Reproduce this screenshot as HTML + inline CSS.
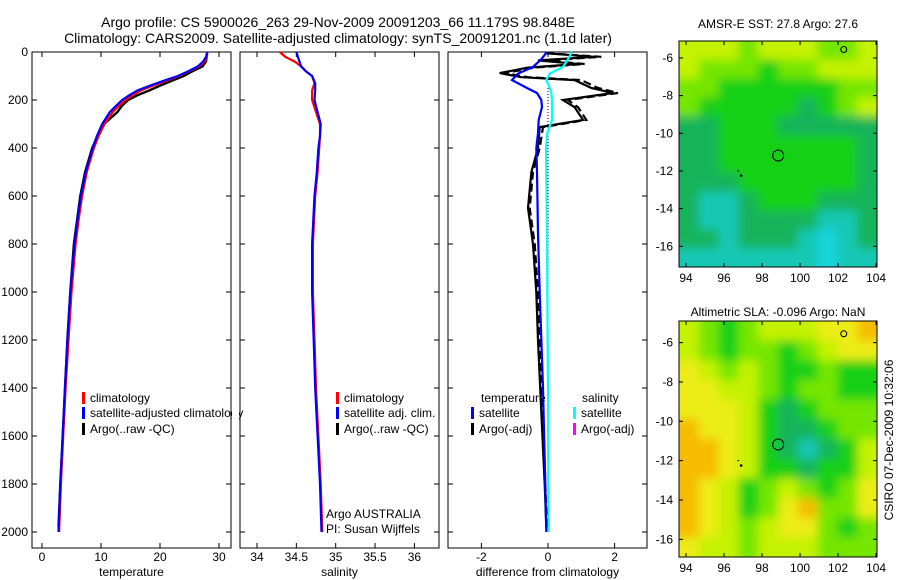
<!DOCTYPE html>
<html><head><meta charset="utf-8">
<style>
html,body{margin:0;padding:0;background:#fff;}
svg{display:block;font-family:"Liberation Sans",sans-serif;}
</style></head>
<body>
<svg id="c" width="900" height="580" viewBox="0 0 900 580" xmlns="http://www.w3.org/2000/svg">
<defs>
<filter id="blur" x="-5%" y="-5%" width="110%" height="110%"><feGaussianBlur stdDeviation="5"/></filter>
<clipPath id="clip-sst-map"><rect x="679" y="41" width="198" height="226"/></clipPath>
<clipPath id="clip-sla-map"><rect x="679" y="321" width="198" height="236"/></clipPath>
</defs>
<text x="338" y="27" font-size="14" text-anchor="middle">Argo profile: CS 5900026_263 29-Nov-2009 20091203_66 11.179S 98.848E</text>
<text x="338" y="43" font-size="14" text-anchor="middle">Climatology: CARS2009. Satellite-adjusted climatology: synTS_20091201.nc (1.1d later)</text>
<text x="778" y="28" font-size="12" text-anchor="middle">AMSR-E SST: 27.8 Argo: 27.6</text>
<text x="778" y="316" font-size="12" text-anchor="middle">Altimetric SLA: -0.096 Argo: NaN</text>
<text transform="translate(893,440) rotate(-90)" font-size="12" text-anchor="middle">CSIRO 07-Dec-2009 10:32:06</text>
<g id="g"></g>
</svg>
<script>
// ---- profile data ----
const depthT = [0,20,40,60,80,100,120,140,160,180,200,225,250,300,350,400,500,600,700,800,1000,1200,1400,1600,1800,2000];
const climT = [28.0,27.9,27.6,26.6,25.0,23.2,21.0,18.8,16.8,15.3,14.2,13.0,12.0,10.6,9.6,8.8,7.6,6.8,6.2,5.7,5.0,4.5,4.0,3.6,3.2,2.9];
const satT = [28.0,27.8,27.3,26.4,24.8,23.0,20.6,18.3,16.2,14.8,13.6,12.5,11.5,10.2,9.3,8.6,7.4,6.6,6.0,5.5,4.8,4.3,3.9,3.5,3.1,2.8];
const depthArgo = [5,20,40,60,80,100,120,140,160,180,200,225,250,300,350,400,500,600,800,1000,1200,1400,1600,1800,1980];
const argoT = [28.0,27.9,27.8,27.2,25.5,24.0,22.0,20.0,18.2,16.2,14.6,13.5,12.8,10.5,9.4,8.5,7.3,6.5,5.4,4.8,4.3,3.9,3.5,3.1,2.8];
const depthS = [0,20,40,60,80,100,130,160,200,250,300,350,400,500,600,800,1000,1200,1400,1600,1800,2000];
const climS = [34.29,34.36,34.48,34.56,34.62,34.70,34.73,34.70,34.70,34.75,34.80,34.80,34.79,34.77,34.74,34.71,34.71,34.73,34.75,34.78,34.81,34.83];
const satS = [34.50,34.52,34.54,34.56,34.62,34.70,34.74,34.74,34.73,34.77,34.81,34.80,34.78,34.76,34.73,34.70,34.70,34.72,34.74,34.77,34.80,34.82];
const depthDiff = [0,30,62,90,117,150,171,200,229,283,338,400,500,754,1000,1400,1800,2000];
const satTDiff = [-0.03,-0.2,-0.45,-0.9,-1.08,-0.63,-0.33,-0.2,-0.18,-0.28,-0.3,-0.35,-0.33,-0.3,-0.25,-0.15,-0.08,-0.05];
const satSDiff = [0.72,0.6,0.45,0.05,-0.05,0.05,0.1,0.12,0.12,0.12,-0.02,-0.06,-0.05,-0.03,-0.02,0.0,0.01,0.02];
const depthArgoDiff = [5,20,35,50,65,88,105,117,150,171,200,230,283,313,400,500,650,800,1000,1200,1500,1800,1980];
const argoDiff = [-0.1,1.4,-0.3,0.9,-0.6,-1.45,-0.8,0.8,1.3,1.95,0.45,0.8,1.05,-0.25,-0.3,-0.5,-0.6,-0.45,-0.35,-0.3,-0.2,-0.1,-0.05];
const argoAdjDiff = [-0.05,1.6,-0.1,1.1,-0.4,-1.3,-0.6,1.0,1.5,2.1,0.6,0.9,1.15,-0.15,-0.25,-0.45,-0.55,-0.4,-0.3,-0.25,-0.15,-0.08,-0.03];
const depthTicks = [0,200,400,600,800,1000,1200,1400,1600,1800,2000];
const tTicks = [0,10,20,30];
const sTicks = [34,34.5,35,35.5,36];
const sTickLabels = ["34","34.5","35","35.5","36"];
const dTicks = [-2,0,2];
// ---- map data (colour class per cell) ----
const sstGrid = [
"2223222332","2333433222","3344444433","3444445432","5544455555","5544444445",
"5544444445","5554444445","5665444555","5665555665","5565556765","6666666766"];
const slaGrid = [
"2343222110","2343343211","1232344344","1122343344","1112454333","0112455433",
"0012456542","0012445442","0124323431","0124310331","0123211343","1223222333"];
const palette = ["#f6bc00","#ecec18","#c4f200","#74e600","#18d018","#14b45a","#18c8b4","#18d4dc"];
const lonTicks = [94,96,98,100,102,104];
const latTicks = [-6,-8,-10,-12,-14,-16];

const NS="http://www.w3.org/2000/svg";
const G=document.getElementById('g');
function mk(tag,attrs,parent){const e=document.createElementNS(NS,tag);for(const k in attrs)e.setAttribute(k,attrs[k]);(parent||G).appendChild(e);return e;}
function txt(x,y,s,anchor,size,parent){const t=mk('text',{x:x,y:y,'font-size':size||12,'text-anchor':anchor||'start'},parent);t.textContent=s;return t;}

const yD = d => 52 + d*0.24;
const xT = v => 42 + v*5.9;
const xS = v => 257 + (v-34)*78.7;
const xDf = v => 548 + v*33.3;

function poly(xs,ds,xf,color,name,dash,w){
  const pts=xs.map((v,i)=>xf(v).toFixed(1)+','+yD(ds[i]).toFixed(1)).join(' ');
  const p=mk('polyline',{points:pts,fill:'none',stroke:color,'stroke-width':w||2.2,'stroke-dasharray':dash||'none'});
  
  
  return p;
}
function panel(x0,x1,name,ticks,labels,xf,title){
  const f=mk('rect',{x:x0,y:52,width:x1-x0,height:496,fill:'#fff',stroke:'#000','stroke-width':1});
  
  
  depthTicks.forEach(d=>{mk('line',{x1:x0,x2:x0+5,y1:yD(d),y2:yD(d),stroke:'#000'});mk('line',{x1:x1-5,x2:x1,y1:yD(d),y2:yD(d),stroke:'#000'});});
  ticks.forEach((t,i)=>{const x=xf(t);mk('line',{x1:x,x2:x,y1:548,y2:543,stroke:'#000'});mk('line',{x1:x,x2:x,y1:52,y2:57,stroke:'#000'});
    const l=txt(x,561,labels[i],'middle');});
  const at=txt((x0+x1)/2,576,title,'middle');
}
// panel 1
panel(32,231,'temperature-panel',tTicks,tTicks.map(String),xT,'temperature');
depthTicks.forEach(d=>{const l=txt(28,yD(d)+4,String(d),'end');});
poly(argoT,depthArgo,xT,'#000','argo-temperature-line',null,2.4);
poly(climT,depthT,xT,'#f00','climatology-temperature-line');
poly(satT,depthT,xT,'#00f','satellite-temperature-line');
// panel 2
panel(240,439,'salinity-panel',sTicks,sTickLabels,xS,'salinity');
poly(climS,depthS,xS,'#f00','climatology-salinity-line');
poly(satS,depthS,xS,'#00f','satellite-salinity-line');
// panel 3
panel(448,647,'difference-panel',dTicks,dTicks.map(String),xDf,'difference from climatology');
mk('line',{x1:xDf(0),x2:xDf(0),y1:yD(100),y2:yD(2000),stroke:'#000','stroke-dasharray':'1,2','stroke-width':1});
poly(argoAdjDiff,depthArgoDiff,xDf,'#000','argo-adjusted-diff-line','8,4',2.2);
poly(argoDiff,depthArgoDiff,xDf,'#000','argo-temperature-diff-line',null,2.2);
poly(satTDiff,depthDiff,xDf,'#00f','satellite-temperature-diff-line');
poly(satSDiff,depthDiff,xDf,'#0ff','satellite-salinity-diff-line');

function legend(x,y,color,label,name){
  mk('rect',{x:x,y:y-10,width:3,height:12,fill:color});
  const t=txt(x+8,y,label);
}
legend(82,402,'#f00','climatology','legend-climatology');
legend(82,417,'#00f','satellite-adjusted climatology','legend-satellite-adjusted');
legend(82,433,'#000','Argo(..raw -QC)','legend-argo-raw');
mk('rect',{x:232,y:405,width:7,height:16,fill:'#fff'});
legend(336,402,'#f00','climatology','legend-sal-climatology');
legend(336,417,'#00f','satellite adj. clim.','legend-sal-satellite');
legend(336,433,'#000','Argo(..raw -QC)','legend-sal-argo');
let t1=txt(481,402,'temperature');
let t2=txt(582,402,'salinity');
legend(471,417,'#00f','satellite','legend-diff-sat-temp');
legend(471,433,'#000','Argo(-adj)','legend-diff-argo-temp');
legend(573,417,'#0ff','satellite','legend-diff-sat-sal');
legend(573,433,'#f0f','Argo(-adj)','legend-diff-argo-sal');
let a1=txt(326,518,'Argo AUSTRALIA');
let a2=txt(326,533,'PI: Susan Wijffels');

// maps
function map(grid,y0,y1,latTop,latBot,name){
  const x0=679,x1=877,lonL=93.63,lonR=104.05;
  const xL=v=>x0+(v-lonL)/(lonR-lonL)*(x1-x0);
  const yL=v=>y0+(latTop-v)/(latTop-latBot)*(y1-y0);
  const rows=grid.length,cols=grid[0].length;
  const cw=(x1-x0)/cols,ch=(y1-y0)/rows;
  const clipG=mk('g',{'clip-path':'url(#clip-'+name+')'});
  const cg=mk('g',{filter:'url(#blur)'},clipG);
  grid.forEach((row,r)=>{for(let c=0;c<cols;c++){
    const ex0=c===0?-12:0, ex1=c===cols-1?12:0, ey0=r===0?-12:0, ey1=r===rows-1?12:0;
    const cell=mk('rect',{x:x0+c*cw+ex0,y:y0+r*ch+ey0,width:cw+0.6-ex0+ex1,height:ch+0.6-ey0+ey1,fill:palette[+row[c]]},cg);
    
    
  }});
  const f=mk('rect',{x:x0,y:y0,width:x1-x0,height:y1-y0,fill:'none',stroke:'#000'});
  
  
  lonTicks.forEach(v=>{const x=xL(v);mk('line',{x1:x,x2:x,y1:y1,y2:y1-4,stroke:'#000'});mk('line',{x1:x,x2:x,y1:y0,y2:y0+4,stroke:'#000'});
    const l=txt(x,y1+15,String(v),'middle');});
  latTicks.forEach(v=>{const y=yL(v);mk('line',{x1:x0,x2:x0+4,y1:y,y2:y,stroke:'#000'});mk('line',{x1:x1,x2:x1-4,y1:y,y2:y,stroke:'#000'});
    const l=txt(x0-6,y+4,String(v),'end');});
  const c=mk('circle',{cx:xL(98.848),cy:yL(-11.179),r:5.5,fill:'none',stroke:'#000','stroke-width':1});
  
  
  mk('circle',{cx:xL(96.9),cy:yL(-12.25),r:1.3,fill:'#000'});
  mk('line',{x1:xL(96.7),x2:xL(96.8),y1:yL(-12.0),y2:yL(-12.0),stroke:'#000'});
  mk('circle',{cx:xL(102.3),cy:yL(-5.55),r:3,fill:'none',stroke:'#000'});
}
map(sstGrid,41,267,-5.1,-17.1,'sst-map');
map(slaGrid,321,557,-4.9,-16.9,'sla-map');
</script>
</body></html>
